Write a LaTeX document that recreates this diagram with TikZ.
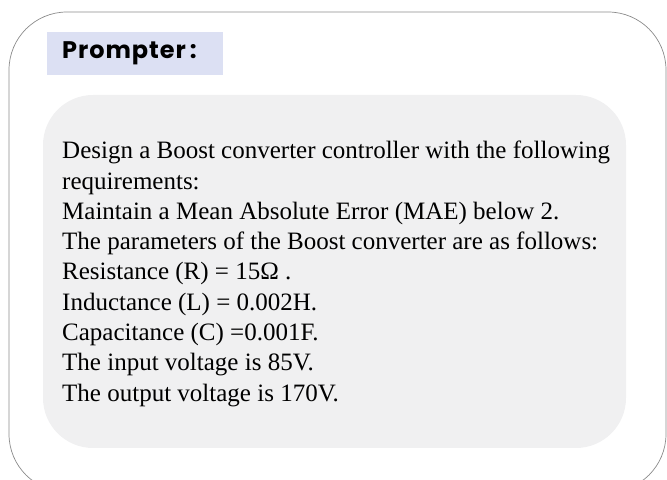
\documentclass[tikz,border=0pt]{standalone}
\usepackage{fontspec}
\setmainfont{Liberation Serif}
\newfontfamily\labelfont[LetterSpace=4]{Poppins}
\definecolor{labelblue}{HTML}{DCE0F3}
\definecolor{panelgray}{HTML}{F0F0F1}
\definecolor{framegray}{HTML}{8A8A8A}
\tikzset{
  frame/.style={draw=framegray, line width=0.7bp, rounded corners=58bp},
  panel/.style={fill=panelgray, rounded corners=50bp},
  tag/.style={fill=labelblue, inner sep=0pt, minimum width=176bp, minimum height=43bp},
  tagtext/.style={inner sep=0pt, text=black,
    font=\labelfont\bfseries\fontsize{24bp}{28bp}\selectfont},
  prompt/.style={align=left, inner sep=0pt,
    font=\fontsize{25bp}{30.3bp}\selectfont, text=black}
}
\begin{document}
\begin{tikzpicture}[x=1bp, y=1bp]
  \useasboundingbox (0,0) rectangle (667,480);
  \begin{scope}
    \clip (0,0) rectangle (667,480);
    \draw [frame] (9,468) rectangle (666,-12);
  \end{scope}
  \fill [panel] (43,385) rectangle (626,32);
  \node (tag) [tag, anchor=north west] at (47,448) {};
  \node (title) [tagtext, anchor=base west] at (62,421) {Prompter\,:};
  \node (prompt) [prompt, anchor=north west] at (62,339) {Design a Boost converter controller with the following\\
    requirements:\\
    Maintain a Mean Absolute Error (MAE) below 2.\\
    The parameters of the Boost converter are as follows:\\
    Resistance (R) = 15Ω .\\
    Inductance (L) = 0.002H.\\
    Capacitance (C) =0.001F.\\
    The input voltage is 85V.\\
    The output voltage is 170V.};
\end{tikzpicture}
\end{document}
